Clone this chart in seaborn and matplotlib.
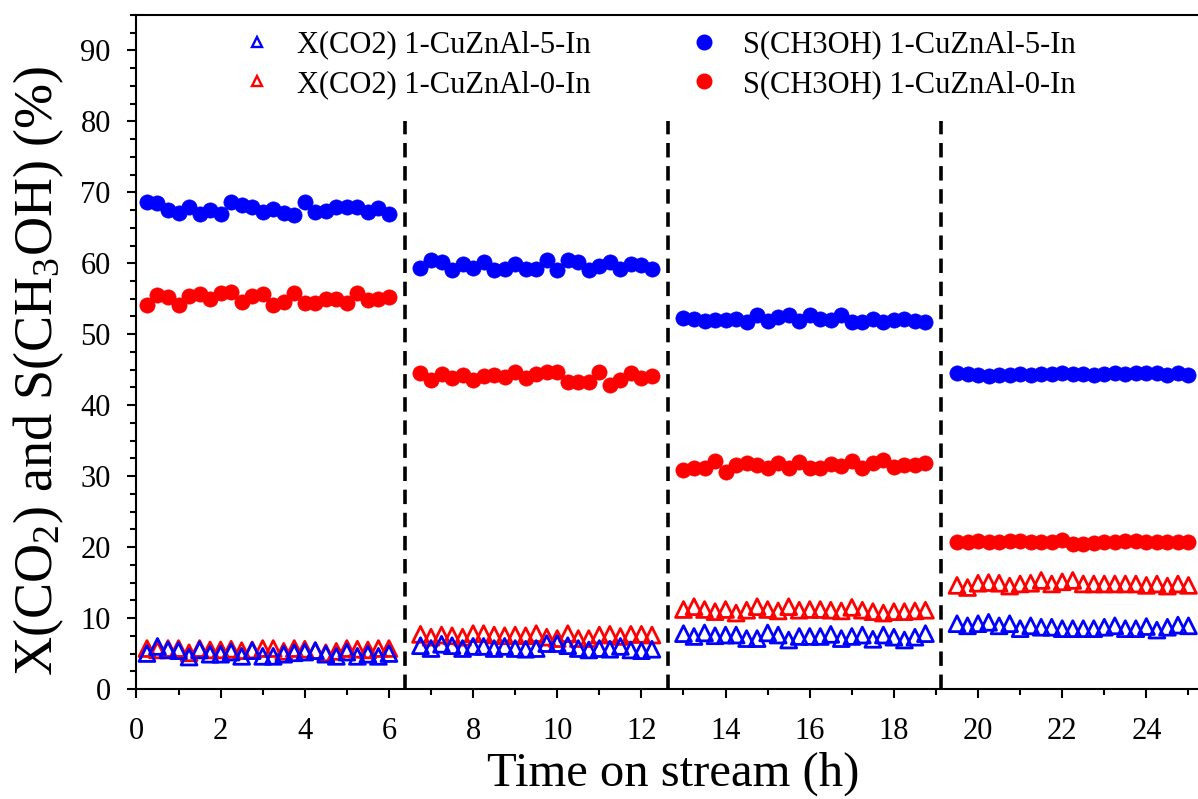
import numpy as np
import pandas as pd
import matplotlib
matplotlib.use("Agg")
import matplotlib.pyplot as plt
from matplotlib.lines import Line2D
from matplotlib.ticker import MultipleLocator
import seaborn as sns

# ---- data -------------------------------------------------------------
# time on stream for the four reaction stages (h)
t_stage1 = [0.25 + 0.25 * i for i in range(24)]
t_stage2 = [6.75 + 0.25 * i for i in range(23)]
t_stage3 = [13.0 + 0.25 * i for i in range(24)]
t_stage4 = [19.5 + 0.25 * i for i in range(23)]

# S(CH3OH), 1-CuZnAl-5-In
s_5in = [68.6, 68.5, 67.5, 67.1, 67.9, 66.9, 67.5, 67.0, 68.7, 68.2, 68.0, 67.2,
         67.6, 67.1, 66.8, 68.7, 67.2, 67.4, 68.0, 68.0, 67.9, 67.2, 67.8, 66.9,
         59.4, 60.4, 60.2, 59.1, 59.9, 59.4, 60.2, 59.0, 59.2, 59.9, 59.2, 59.2,
         60.4, 59.1, 60.4, 60.2, 59.1, 59.6, 60.2, 59.2, 59.9, 59.7, 59.2,
         52.3, 52.1, 51.9, 52.0, 52.0, 52.2, 51.7, 52.7, 51.9, 52.4, 52.7, 51.9,
         52.7, 52.2, 52.0, 52.7, 51.7, 51.7, 52.2, 51.7, 52.0, 52.2, 51.9, 51.7,
         44.5, 44.4, 44.2, 44.1, 44.2, 44.3, 44.4, 44.3, 44.4, 44.4, 44.5, 44.4,
         44.4, 44.3, 44.4, 44.5, 44.4, 44.5, 44.6, 44.5, 44.2, 44.6, 44.2]

# S(CH3OH), 1-CuZnAl-0-In
s_0in = [54.1, 55.5, 55.3, 54.1, 55.4, 55.7, 55.0, 55.8, 56.0, 54.5, 55.4, 55.7,
         54.1, 54.5, 55.8, 54.4, 54.4, 55.0, 55.0, 54.4, 55.8, 54.8, 55.0, 55.2,
         44.5, 43.5, 44.4, 43.9, 44.2, 43.6, 44.1, 44.2, 44.0, 44.7, 43.9, 44.4,
         44.7, 44.7, 43.2, 43.3, 43.3, 44.7, 42.8, 43.5, 44.6, 43.9, 44.1,
         30.8, 31.2, 31.1, 32.2, 30.6, 31.5, 31.8, 31.5, 31.1, 31.9, 31.2, 32.0,
         31.1, 31.1, 31.7, 31.4, 32.2, 31.1, 31.8, 32.3, 31.3, 31.5, 31.5, 31.9,
         20.7, 20.7, 20.9, 20.7, 20.7, 20.9, 20.9, 20.7, 20.7, 20.7, 21.0, 20.4,
         20.4, 20.6, 20.7, 20.7, 20.9, 20.9, 20.7, 20.7, 20.7, 20.7, 20.7]

# X(CO2), 1-CuZnAl-5-In
x_5in = [5.0, 6.0, 5.5, 5.4, 4.5, 5.5, 4.9, 4.9, 5.2, 4.6, 5.4, 4.6,
         4.6, 4.9, 5.1, 5.2, 5.4, 4.9, 4.6, 5.2, 4.6, 4.9, 4.6, 5.0,
         6.1, 5.7, 6.3, 6.1, 5.7, 6.0, 6.0, 5.7, 6.0, 5.7, 5.6, 5.7,
         6.4, 6.4, 6.1, 5.7, 5.5, 5.7, 5.6, 6.0, 5.5, 5.4, 5.6,
         7.8, 7.4, 7.9, 7.5, 7.6, 7.6, 7.1, 7.1, 7.9, 7.6, 6.9, 7.4,
         7.4, 7.4, 7.7, 7.1, 7.4, 7.6, 7.0, 7.6, 7.3, 6.9, 7.3, 7.8,
         9.2, 8.9, 9.2, 9.4, 8.9, 9.2, 8.5, 8.9, 8.7, 8.7, 8.5, 8.5,
         8.5, 8.5, 8.7, 8.9, 8.5, 8.5, 8.8, 8.3, 8.7, 9.0, 8.9]

# X(CO2), 1-CuZnAl-0-In
x_0in = [5.7, 5.5, 5.7, 5.7, 5.1, 5.7, 5.5, 5.5, 5.6, 5.4, 5.5, 5.7,
         5.7, 5.3, 5.7, 5.6, 5.4, 5.1, 5.3, 5.7, 5.6, 5.5, 5.7, 5.7,
         7.7, 7.3, 7.6, 7.5, 7.3, 7.8, 7.8, 7.6, 7.5, 7.6, 7.5, 7.8,
         7.3, 7.1, 7.8, 7.1, 7.1, 7.6, 7.7, 7.4, 7.7, 7.7, 7.6,
         11.2, 11.6, 11.2, 10.9, 11.2, 10.7, 11.1, 11.6, 11.2, 11.0, 11.6, 11.1,
         11.2, 11.2, 11.1, 11.0, 11.5, 11.1, 10.9, 10.7, 10.9, 10.9, 11.0, 11.1,
         14.6, 14.3, 14.9, 15.0, 14.9, 14.5, 14.8, 14.9, 15.3, 14.8, 15.1, 15.3,
         14.8, 14.8, 14.8, 14.8, 14.8, 14.8, 14.6, 14.8, 14.5, 14.8, 14.6]

# stage boundaries (h)
stage_breaks = [6.37, 12.64, 19.13]

labels = ["X(CO2) 1-CuZnAl-5-In", "X(CO2) 1-CuZnAl-0-In",
          "S(CH3OH) 1-CuZnAl-5-In", "S(CH3OH) 1-CuZnAl-0-In"]

time = t_stage1 + t_stage2 + t_stage3 + t_stage4
df = pd.DataFrame({"time": time, "s5": s_5in, "s0": s_0in,
                   "x5": x_5in, "x0": x_0in})

# ---- style ------------------------------------------------------------
sns.set_theme(style="ticks")
plt.rcParams["font.family"] = ["Liberation Serif", "DejaVu Serif"]
plt.rcParams["mathtext.default"] = "regular"
for key in ["text.color", "axes.labelcolor", "xtick.color", "ytick.color",
            "axes.edgecolor"]:
    plt.rcParams[key] = "black"

BLUE = "#0000ff"
RED = "#ff0000"

fig = plt.figure(figsize=(11.98, 7.99), dpi=100)
ax = fig.add_axes([0.1139, 0.1377, 0.8957, 0.8436])

# selectivity: filled circles
sns.scatterplot(data=df, x="time", y="s5", ax=ax, color=BLUE, marker="o",
                s=120, edgecolor=BLUE, linewidth=0.5, zorder=3)
sns.scatterplot(data=df, x="time", y="s0", ax=ax, color=RED, marker="o",
                s=120, edgecolor=RED, linewidth=0.5, zorder=3)
# conversion: open triangles
sns.scatterplot(data=df, x="time", y="x0", ax=ax, marker="^", s=130,
                facecolor="none", edgecolor=RED, linewidth=2, zorder=3)
sns.scatterplot(data=df, x="time", y="x5", ax=ax, marker="^", s=130,
                facecolor="none", edgecolor=BLUE, linewidth=2, zorder=3)

# stage separators
ax.vlines(stage_breaks, 0, 80, colors="black", linewidth=2.6,
          linestyles=(0, (4.0, 2.4)), zorder=2)

# ---- axes -------------------------------------------------------------
ax.set_xlim(0, 25.5)
ax.set_ylim(0, 95)
ax.xaxis.set_major_locator(MultipleLocator(2))
ax.xaxis.set_minor_locator(MultipleLocator(1))
ax.yaxis.set_major_locator(MultipleLocator(10))
ax.yaxis.set_minor_locator(MultipleLocator(2.5))
ax.set_yticks(np.arange(0, 91, 10))
ax.tick_params(which="major", direction="out", length=6.5, width=1.5,
               labelsize=22, colors="black")
ax.tick_params(axis="x", which="major", pad=14)
ax.tick_params(axis="y", which="major", pad=12)
ax.tick_params(which="minor", direction="out", length=4.3, width=1.5)
for side in ["left", "bottom", "top", "right"]:
    ax.spines[side].set_linewidth(1.5)
    ax.spines[side].set_color("black")

ax.set_xlabel("Time on stream (h)", fontsize=35)
ax.set_ylabel(r"X(CO$_2$) and S(CH$_3$OH) (%)", fontsize=39)
ax.xaxis.set_label_coords(0.5, -0.093)
ax.yaxis.set_label_coords(-0.066, 0.472)

# ---- legend -----------------------------------------------------------
handles = [
    Line2D([], [], linestyle="none", marker="^", markersize=7.5,
           markerfacecolor="none", markeredgecolor=BLUE, markeredgewidth=1.7),
    Line2D([], [], linestyle="none", marker="^", markersize=7.5,
           markerfacecolor="none", markeredgecolor=RED, markeredgewidth=1.7),
    Line2D([], [], linestyle="none", marker="o", markersize=10.5,
           color=BLUE),
    Line2D([], [], linestyle="none", marker="o", markersize=10.5,
           color=RED),
]
ax.legend(handles, labels, ncol=2, loc="upper left",
          bbox_to_anchor=(0.084, 1.0), frameon=False, fontsize=22,
          handlelength=1.0, handletextpad=0.8, columnspacing=3.2,
          labelspacing=0.35, borderaxespad=0.1)

fig.savefig("out.png", dpi=100)
